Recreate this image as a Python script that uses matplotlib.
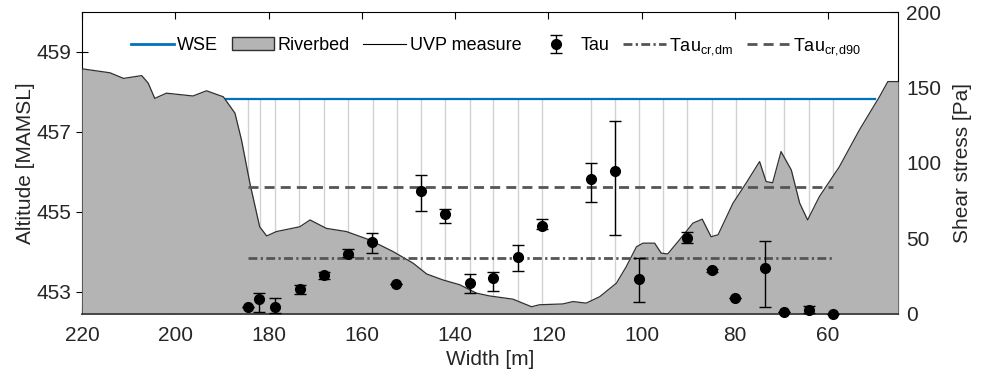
import numpy as np
import matplotlib
matplotlib.use('Agg')
import matplotlib.pyplot as plt
from matplotlib.lines import Line2D
from matplotlib.patches import Patch

plt.rcParams['font.family'] = ['Liberation Sans', 'DejaVu Sans']

# riverbed profile (width [m], altitude [MAMSL])
bed_w = [220, 214, 211.1, 207.2, 205.8, 204.4, 201.9, 196.2, 193.3, 189.7, 187.2, 185.8,
         184.0, 181.9, 180.4, 178.3, 173.3, 171.1, 167.6, 163.3, 158.3, 153.3, 149.0,
         146.1, 142.6, 139.0, 135.4, 132.6, 127.6, 123.6, 121.9, 116.9, 114.7, 111.9,
         109.0, 105.4, 103.3, 101.1, 99.7, 97.2, 95.8, 94.4, 91.9, 89.0, 87.0, 85.1,
         83.6, 80.4, 77.6, 74.7, 73.3, 71.9, 70.1, 67.9, 66.1, 64.4, 61.9, 57.6, 53.3,
         49.0, 47.2, 45]
bed_z = [458.58, 458.48, 458.34, 458.41, 458.22, 457.84, 457.97, 457.90, 458.03, 457.88,
         457.47, 456.80, 455.72, 454.63, 454.40, 454.51, 454.63, 454.80, 454.59, 454.51,
         454.30, 454.01, 453.72, 453.45, 453.30, 453.18, 452.97, 452.90, 452.82, 452.63,
         452.68, 452.70, 452.76, 452.72, 452.88, 453.22, 453.63, 454.13, 454.22, 454.22,
         453.97, 453.95, 454.30, 454.72, 454.82, 454.38, 454.43, 455.22, 455.72, 456.26,
         455.76, 455.73, 456.51, 456.05, 455.22, 454.80, 455.38, 456.13, 457.05, 457.88,
         458.26, 458.26]

wse = 457.82
wse_w = [189.3, 50.0]

# UVP measurement verticals
uvp_w = [184.4, 181.9, 178.7, 173.5, 168.1, 162.9, 157.7, 152.4, 147.4, 142.1, 136.9,
         131.9, 126.6, 121.3, 110.9, 105.8, 100.6, 95.4, 90.2, 85.0, 79.8, 73.5, 69.4,
         64.2, 58.9]

# shear stress
tau_w = [184.5, 182.0, 178.6, 173.3, 168.1, 162.9, 157.8, 152.6, 147.4, 142.2, 136.9,
         131.9, 126.6, 121.4, 110.9, 105.8, 100.6, 90.3, 85.0, 79.9, 73.5, 69.4, 64.2, 58.9]
tau = [4.8, 9.7, 4.8, 16.3, 25.6, 39.7, 47.5, 19.9, 81.7, 66.2, 20.7, 23.6, 37.9, 58.3,
       89.2, 94.9, 23.0, 50.1, 29.1, 10.4, 30.7, 1.5, 2.6, 0.0]
tau_lo = [0, 8.2, 4.3, 3.0, 2.6, 2.2, 7.3, 0, 13.3, 5.7, 6.6, 8.2, 9.2, 2.2, 14.8, 42.6,
          14.9, 2.9, 1.0, 0, 26.3, 0, 2.1, 0]
tau_hi = [0, 4.4, 5.6, 3.0, 2.2, 3.1, 5.9, 0, 10.2, 3.6, 5.8, 4.4, 7.6, 4.4, 10.6, 33.1,
          13.9, 4.4, 1.0, 0, 17.8, 0, 2.7, 0]

tau_cr_dm = 36.9
tau_cr_d90 = 84.3
cr_w = [184.4, 59.0]

dashdot = (0, (3.2, 1.2, 0.8, 1.2))
dashed = (0, (3.6, 2.2))

fig = plt.figure(figsize=(9.88, 3.81), dpi=100)
ax = fig.add_axes([0.083, 0.176, 0.826, 0.7925])
ax2 = ax.twinx()

ylo = 452.45
ax.vlines(uvp_w, ylo, wse, color='#d2d2d2', lw=1.0, zorder=1)
ax.plot(wse_w, [wse, wse], color='#0072BD', lw=1.6, zorder=2)
ax.fill_between(bed_w, ylo, bed_z, color='#b4b4b4', lw=0, zorder=3)
ax.plot(bed_w, bed_z, color='#303030', lw=0.9, zorder=3.2)
ax.spines['bottom'].set_zorder(4)
ax.spines['bottom'].set_linewidth(1.2)
ax.spines['bottom'].set_color('#303030')

ax.set_xlim(220, 45)
ax.set_ylim(ylo, 460)
ax.set_xticks([220, 200, 180, 160, 140, 120, 100, 80, 60])
ax.set_yticks([453, 455, 457, 459])
ax.tick_params(axis='x', direction='in', top=True, length=5, labelsize=15, pad=9,
               labelcolor='#262626')
ax.tick_params(axis='y', direction='inout', length=8, labelsize=15, labelcolor='#262626')
ax.set_xlabel('Width [m]', fontsize=15, color='#262626', labelpad=3)
ax.set_ylabel('Altitude [MAMSL]', fontsize=15, labelpad=1, color='#262626')

ax2.plot(cr_w, [tau_cr_dm] * 2, color='#555555', lw=2, ls=dashdot, zorder=2)
ax2.plot(cr_w, [tau_cr_d90] * 2, color='#555555', lw=2, ls=dashed, zorder=2)
eb = ax2.errorbar(tau_w, tau, yerr=[tau_lo, tau_hi], fmt='o', color='black', ms=7,
                  elinewidth=1, capsize=4, capthick=1, zorder=5, clip_on=False)
ax2.set_ylim(0, 200)
ax2.set_yticks([0, 50, 100, 150, 200])
ax2.tick_params(axis='y', direction='in', length=5, labelsize=15, pad=6,
                labelcolor='#262626')
for t in ax2.yaxis.get_major_ticks()[:-1]:
    t.tick2line.set_visible(False)
for s in ax2.spines.values():
    s.set_visible(False)
ax2.set_ylabel('Shear stress [Pa]', fontsize=15, labelpad=8, color='#262626')

handles = [Line2D([], [], color='#0072BD', lw=2),
           Patch(facecolor='#b4b4b4', edgecolor='#303030', lw=1),
           Line2D([], [], color='black', lw=0.8),
           eb,
           Line2D([], [], color='#555555', lw=2, ls=dashdot),
           Line2D([], [], color='#555555', lw=2, ls=dashed)]
labels = ['WSE', 'Riverbed', 'UVP measure', 'Tau',
          r'Tau$_{\mathregular{cr{,}dm}}$', r'Tau$_{\mathregular{cr{,}d90}}$']
ax2.legend(handles, labels, loc='center', bbox_to_anchor=(0.507, 0.887), ncol=6,
           frameon=False, fontsize=13, handlelength=2.35, handletextpad=0.2,
           columnspacing=0.75)

fig.savefig('out.png', dpi=100)
